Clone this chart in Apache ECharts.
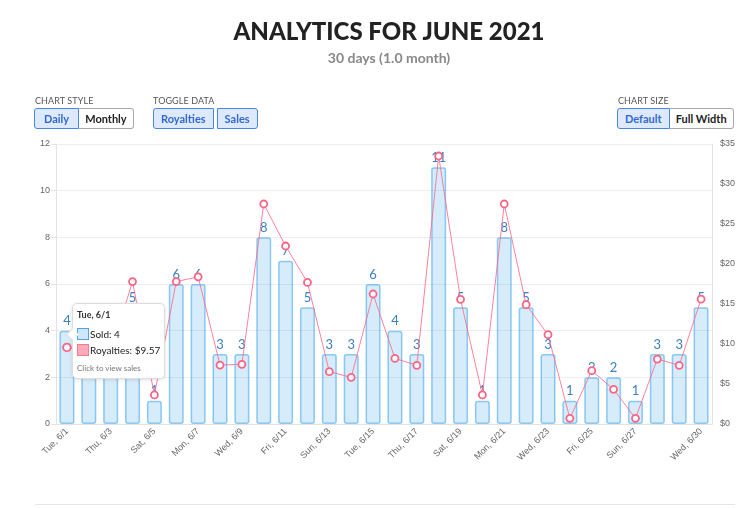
<!DOCTYPE html>
<html>
<head>
<meta charset="utf-8">
<script src="https://cdn.jsdelivr.net/npm/echarts@6/dist/echarts.min.js"></script>
<style>
  html, body { margin: 0; padding: 0; background: #fff; }
  #wrap { position: relative; width: 743px; height: 508px; overflow: hidden; font-family: Lato, "Noto Sans", sans-serif; }
  #chart { position: absolute; left: 0; top: 0; width: 743px; height: 508px; }
  .ctl-label { position: absolute; font-size: 9px; color: #555; letter-spacing: 0.1px; }
  .btn-group { position: absolute; display: flex; }
  .btn { height: 19px; line-height: 19px; padding: 0 7px; font-size: 11px; font-weight: bold; border: 1px solid #aaa; background: #fff; color: #222; box-sizing: content-box; }
  .btn.on { background: #dde9fd; border-color: #4a86e8; color: #3468d0; }
  .btn-group .btn:first-child { border-radius: 3px 0 0 3px; }
  .btn-group .btn:last-child { border-radius: 0 3px 3px 0; }
  .btn.single { border-radius: 3px; margin-right: 3px; }
  #sep { position: absolute; left: 35px; right: 8px; top: 504px; border-top: 1px solid #e6e6e6; }
</style>
</head>
<body>
<div id="wrap">
  <div id="chart"></div>
  <div class="ctl-label" style="left:35px;top:95px;">CHART STYLE</div>
  <div class="btn-group" style="left:34px;top:108px;">
    <div class="btn on" style="padding:0 9px;">Daily</div><div class="btn" style="border-left:none;padding:0 6px;">Monthly</div>
  </div>
  <div class="ctl-label" style="left:153px;top:95px;">TOGGLE DATA</div>
  <div class="btn-group" style="left:153px;top:108px;">
    <div class="btn on single">Royalties</div><div class="btn on single">Sales</div>
  </div>
  <div class="ctl-label" style="left:618px;top:95px;">CHART SIZE</div>
  <div class="btn-group" style="left:617px;top:108px;">
    <div class="btn on">Default</div><div class="btn" style="border-left:none;padding:0 6px;">Full Width</div>
  </div>
  <div id="sep"></div>
</div>
<script>
const days = ['Tue, 6/1', 'Wed, 6/2', 'Thu, 6/3', 'Fri, 6/4', 'Sat, 6/5', 'Sun, 6/6', 'Mon, 6/7',
  'Tue, 6/8', 'Wed, 6/9', 'Thu, 6/10', 'Fri, 6/11', 'Sat, 6/12', 'Sun, 6/13', 'Mon, 6/14',
  'Tue, 6/15', 'Wed, 6/16', 'Thu, 6/17', 'Fri, 6/18', 'Sat, 6/19', 'Sun, 6/20', 'Mon, 6/21',
  'Tue, 6/22', 'Wed, 6/23', 'Thu, 6/24', 'Fri, 6/25', 'Sat, 6/26', 'Sun, 6/27', 'Mon, 6/28',
  'Tue, 6/29', 'Wed, 6/30'];
const sold = [4, 4, 3, 5, 1, 6, 6, 3, 3, 8, 7, 5, 3, 3, 6, 4, 3, 11, 5, 1, 8, 5, 3, 1, 2, 2, 1, 3, 3, 5];
const royalties = [9.57, 9.2, 9.0, 17.8, 3.63, 17.8, 18.4, 7.37, 7.46, 27.5, 22.25, 17.7, 6.54, 5.83,
  16.25, 8.2, 7.33, 33.5, 15.58, 3.63, 27.5, 14.92, 11.17, 0.71, 6.67, 4.33, 0.71, 8.12, 7.33, 15.6];

const chart = echarts.init(document.getElementById('chart'));

// chart.js-like auto skip: every other label, plus the last one
function showLabel(i) {
  if (i === days.length - 1) return true;
  return i % 2 === 0 && i < days.length - 2;
}

const option = {
  animation: false,
  title: {
    text: 'ANALYTICS FOR JUNE 2021',
    subtext: '30 days (1.0 month)',
    left: 384,
    textAlign: 'center',
    top: 15,
    itemGap: 7,
    textStyle: { fontFamily: 'Lato', fontWeight: 900, fontSize: 24, color: '#222' },
    subtextStyle: { fontFamily: 'Lato', fontWeight: 'bold', fontSize: 14, color: '#888' }
  },
  grid: { left: 56, right: 31, top: 144, bottom: 84 },
  tooltip: {
    trigger: 'axis',
    alwaysShowContent: true,
    axisPointer: { type: 'none' },
    padding: [5, 4, 4, 4],
    backgroundColor: '#fff',
    borderColor: '#ddd',
    borderWidth: 1,
    extraCssText: 'border-radius:5px;box-shadow:0 1px 4px rgba(0,0,0,0.12);overflow:visible;',
    position: function () { return [72, 303]; },
    formatter: function (params) {
      const i = params[0].dataIndex;
      const sq = (bg, bd) => '<span style="display:inline-block;width:10px;height:10px;background:' + bg +
        ';border:1px solid ' + bd + ';vertical-align:-2px;margin-right:1px;"></span>';
      return '<div style="position:relative;font-family:Lato;">' +
        '<div style="position:absolute;left:-9px;top:21px;width:8px;height:8px;background:#fff;' +
        'border-left:1px solid #ddd;border-bottom:1px solid #ddd;transform:rotate(45deg);"></div>' +
        '<div style="font-size:9px;font-weight:bold;color:#333;line-height:12px;margin-bottom:5px;">' + days[i] + '</div>' +
        '<div style="font-size:10px;color:#222;line-height:16px;">' + sq('#cfe5f8', '#4ea6ea') + 'Sold: ' + sold[i] + '</div>' +
        '<div style="font-size:10px;color:#222;line-height:16px;">' + sq('#fcaab9', '#f57a93') + 'Royalties: $' + royalties[i].toFixed(2) + '</div>' +
        '<div style="font-size:8px;color:#777;line-height:12px;margin-top:4px;">Click to view sales</div>' +
        '</div>';
    }
  },
  xAxis: {
    type: 'category',
    data: days,
    axisLine: { lineStyle: { color: '#e3e3e3', width: 1 } },
    axisTick: { show: false },
    axisLabel: {
      interval: function (i) { return showLabel(i); },
      rotate: 45,
      fontSize: 9,
      color: '#666',
      fontFamily: 'Liberation Sans',
      margin: 6
    }
  },
  yAxis: [
    {
      type: 'value',
      min: 0,
      max: 12,
      interval: 2,
      axisLine: { show: true, lineStyle: { color: '#e3e3e3' } },
      axisTick: { show: true, length: 5, lineStyle: { color: '#e3e3e3' } },
      axisLabel: { fontSize: 9, color: '#666', fontFamily: 'Liberation Sans', margin: 6 },
      splitLine: { lineStyle: { color: '#eeeeee' } }
    },
    {
      type: 'value',
      min: 0,
      max: 35,
      interval: 5,
      axisLine: { show: true, lineStyle: { color: '#e3e3e3' } },
      axisTick: { show: false },
      axisLabel: { fontSize: 9, color: '#666', fontFamily: 'Liberation Sans', margin: 8, formatter: '${value}' },
      splitLine: { show: false }
    }
  ],
  series: [
    {
      name: 'Sold',
      type: 'bar',
      yAxisIndex: 0,
      data: sold,
      barWidth: 15,
      itemStyle: {
        color: 'rgba(54,162,235,0.2)',
        borderColor: 'rgba(54,162,235,0.55)',
        borderWidth: 1.5,
        borderRadius: 2
      },
      label: {
        show: true,
        position: 'top',
        distance: 3,
        fontFamily: 'Lato',
        fontSize: 13,
        color: '#3a7fc3'
      },
      emphasis: { disabled: true }
    },
    {
      name: 'Royalties',
      type: 'line',
      yAxisIndex: 1,
      data: royalties,
      z: 5,
      symbol: 'circle',
      symbolSize: 7,
      showAllSymbol: true,
      lineStyle: { color: 'rgba(255,99,132,0.8)', width: 1 },
      itemStyle: { color: '#fff', borderColor: '#ff6384', borderWidth: 1.8 },
      emphasis: { disabled: true }
    }
  ]
};

chart.setOption(option);
chart.dispatchAction({ type: 'showTip', seriesIndex: 0, dataIndex: 0 });
</script>
</body>
</html>
